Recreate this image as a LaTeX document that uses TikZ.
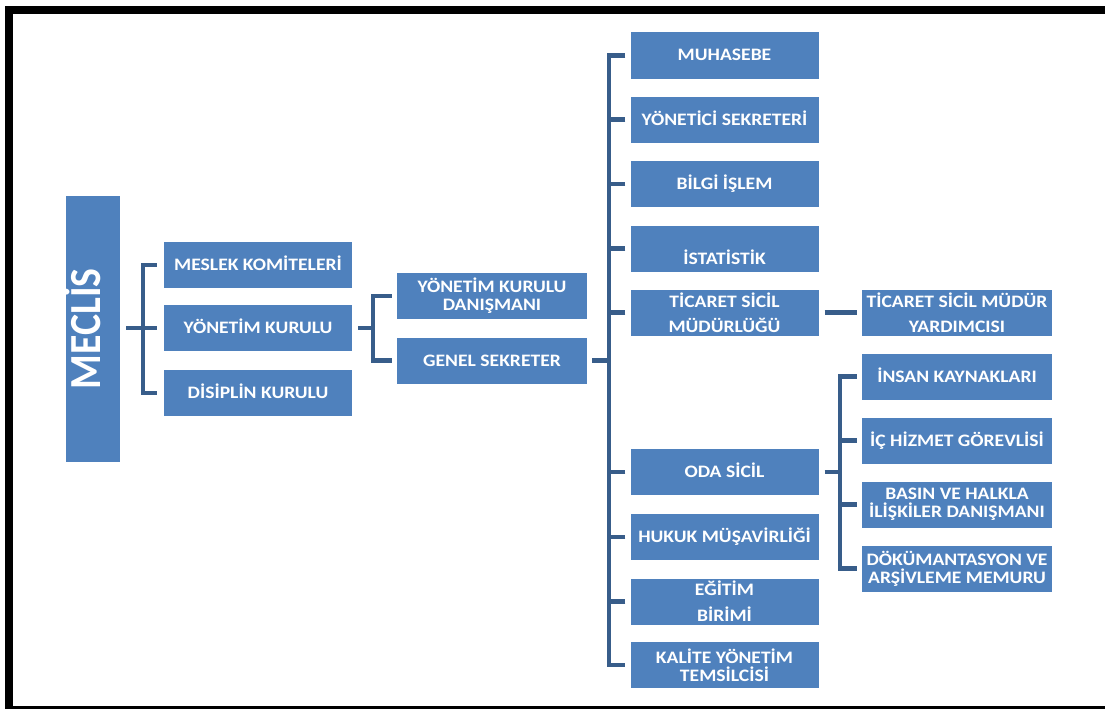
\documentclass[tikz,border=0pt]{standalone}
\usepackage{fontspec}
\newfontfamily\boxfont[FakeStretch=1.12]{Carlito}
\definecolor{boxblue}{RGB}{79,129,189}
\definecolor{linkblue}{RGB}{56,93,138}

\begin{document}
\begin{tikzpicture}[x=1pt,y=-1pt,
	unit/.style={fill=boxblue,text=white,minimum width=188pt,minimum height=46pt,inner sep=0pt,font=\boxfont\bfseries\fontsize{17.5}{18}\selectfont},
	one/.style={unit,text height=11pt,text depth=0pt},
	two/.style={unit,align=center},
	link/.style={draw=linkblue,line width=4.5pt}]
	\useasboundingbox[fill=white] (0,0) rectangle (1105,709);
	\clip (0,0) rectangle (1105,709);
	\draw[line width=8pt] (1125,10) -- (9,10) -- (9,710) -- (1125,710);
	
	\node[fill=boxblue,text=white,minimum width=54pt,minimum height=266pt,inner sep=0pt,font=\boxfont\bfseries\fontsize{35.5}{36}\selectfont] (mec) at (93,329) {\kern-22pt\makebox[0pt]{\rotatebox{90}{\scalebox{1}[1.25]{MECLİS}}}};
	
	\node[one] (mk) at (258,265) {MESLEK KOMİTELERİ};
	\node[one] (yk) at (258,328) {YÖNETİM KURULU};
	\node[one] (dk) at (258,393) {DİSİPLİN KURULU};
	
	\node[two,minimum width=190pt] (ykd) at (492,296) {YÖNETİM KURULU\\DANIŞMANI};
	\node[one,minimum width=190pt] (gs) at (492,360.5) {GENEL SEKRETER};
	
	\node[one] (muh) at (724.5,55.5) {MUHASEBE};
	\node[one] (ysek) at (724.5,119.5) {YÖNETİCİ SEKRETERİ};
	\node[one] (bil) at (724.5,184) {BİLGİ İŞLEM};
	\node[unit,text height=31pt,text depth=0pt] (ist) at (724.5,248.5) {İSTATİSTİK};
	\node[two] (tsm) at (724.5,312.5) {TİCARET SİCİL\\[7pt]MÜDÜRLÜĞÜ};
	\node[one] (oda) at (724.5,472) {ODA SİCİL};
	\node[one] (huk) at (724.5,537) {HUKUK MÜŞAVİRLİĞİ};
	\node[two] (egt) at (724.5,601.5) {EĞİTİM\\[8pt]BİRİMİ};
	\node[two] (kal) at (724.5,665) {KALİTE YÖNETİM\\TEMSİLCİSİ};
	
	\node[two,minimum width=190pt] (tsmy) at (957,312.5) {TİCARET SİCİL MÜDÜR\\[7pt]YARDIMCISI};
	\node[one,minimum width=190pt] (ik) at (957,376.5) {İNSAN KAYNAKLARI};
	\node[one,minimum width=190pt] (ich) at (957,440.5) {İÇ HİZMET GÖREVLİSİ};
	\node[two,minimum width=190pt] (bas) at (957,504.5) {BASIN VE HALKLA\\İLİŞKİLER DANIŞMANI};
	\node[two,minimum width=190pt] (dok) at (957,568.5) {DÖKÜMANTASYON VE\\ARŞİVLEME MEMURU};
	
	\draw[link] ([xshift=6pt]mec.east |- yk.west) -- ([xshift=-7pt]yk.west);
	\draw[link] ([xshift=-7pt]mk.west) -- ++(-14,0) |- ([xshift=-7pt]dk.west);
	
	\draw[link] ([xshift=6pt]yk.east) -- ++(15,0);
	\draw[link] ([xshift=-5pt]ykd.west) -- ++(-19,0) |- ([xshift=-5pt]gs.west);
	
	\draw[link] ([xshift=5pt]gs.east) -- ++(17,0);
	\draw[link] ([xshift=-5pt]muh.west) -- ++(-16.5,0) |- ([xshift=-5pt]kal.west);
	\draw[link] ([xshift=-5pt]ysek.west) -- ++(-16.5,0);
	\draw[link] ([xshift=-5pt]bil.west) -- ++(-16.5,0);
	\draw[link] ([xshift=-5pt]ist.west) -- ++(-16.5,0);
	\draw[link] ([xshift=-5pt]tsm.west) -- ++(-16.5,0);
	\draw[link] ([xshift=-5pt]oda.west) -- ++(-16.5,0);
	\draw[link] ([xshift=-5pt]huk.west) -- ++(-16.5,0);
	\draw[link] ([xshift=-5pt]egt.west) -- ++(-16.5,0);
	
	\draw[link] ([xshift=6pt]tsm.east) -- ([xshift=-5pt]tsmy.west);
	
	\draw[link] ([xshift=6pt]oda.east) -- ++(16,0);
	\draw[link] ([xshift=-5pt]ik.west) -- ++(-17,0) |- ([xshift=-5pt]dok.west);
	\draw[link] ([xshift=-5pt]ich.west) -- ++(-17,0);
	\draw[link] ([xshift=-5pt]bas.west) -- ++(-17,0);
\end{tikzpicture}
\end{document}
